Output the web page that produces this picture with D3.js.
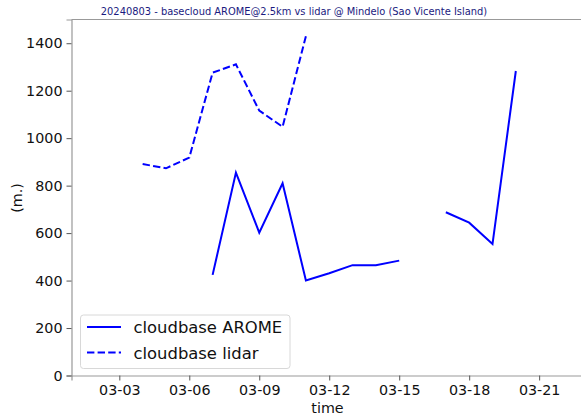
<!DOCTYPE html>
<html>
<head>
<meta charset="utf-8">
<script src="https://cdn.jsdelivr.net/npm/d3@7"></script>
<style>
  html, body { margin: 0; padding: 0; background: #fff; }
  svg { display: block; font-family: "DejaVu Sans", sans-serif; }
</style>
</head>
<body>
<svg id="chart" width="581" height="417"></svg>
<script>
// ---- data ----
const titleText = "20240803 - basecloud AROME@2.5km vs lidar @ Mindelo (Sao Vicente Island)";
const aromeDates = ["2024-03-07","2024-03-08","2024-03-09","2024-03-10","2024-03-11","2024-03-12","2024-03-13","2024-03-14","2024-03-15","2024-03-16","2024-03-17","2024-03-18","2024-03-19","2024-03-20"];
const aromeValues = [424, 855, 602, 810, 400, 431, 465, 465, 484, null, 688, 644, 554, 1283];
const lidarDates = ["2024-03-04","2024-03-05","2024-03-06","2024-03-07","2024-03-08","2024-03-09","2024-03-10","2024-03-11"];
const lidarValues = [891, 873, 918, 1276, 1311, 1116, 1048, 1430];
const xTickLabels = ["03-03","03-06","03-09","03-12","03-15","03-18","03-21"];
const yTicks = [0, 200, 400, 600, 800, 1000, 1200, 1400];
const legendLabels = ["cloudbase AROME", "cloudbase lidar"];

// ---- layout ----
const W = 581, H = 417;
const margin = { left: 71.5, right: -2, top: 19.5, bottom: 41.5 };
const svg = d3.select("#chart");
const parse = d3.utcParse("%Y-%m-%d");
const parseTick = s => parse("2024-" + s);

const x = d3.scaleUtc()
  .domain([new Date(Date.UTC(2024, 2, 3) - 2.05 * 864e5), new Date(Date.UTC(2024, 2, 3) + 19.88 * 864e5)])
  .range([margin.left, W - margin.right]);
const y = d3.scaleLinear().domain([0, 1500]).range([H - margin.bottom, margin.top]);

const blue = "#0000ff";
const spine = "#999999";

// axes
const xAxis = d3.axisBottom(x)
  .tickValues(xTickLabels.map(parseTick))
  .tickFormat(d3.utcFormat("%m-%d"))
  .tickSizeOuter(0).tickSize(5).tickPadding(4);
const gx = svg.append("g").attr("transform", `translate(0,${H - margin.bottom})`).call(xAxis);
gx.select(".domain").attr("stroke", spine).attr("stroke-width", 1.2);
gx.selectAll(".tick line").attr("stroke", "#555").attr("stroke-width", 1);
gx.selectAll(".tick text").attr("font-size", "14.3px").attr("fill", "#111").attr("font-family", "DejaVu Sans");

const yAxis = d3.axisLeft(y).tickValues(yTicks).tickFormat(d3.format("d"))
  .tickSizeOuter(0).tickSize(5).tickPadding(4);
const gy = svg.append("g").attr("transform", `translate(${margin.left},0)`).call(yAxis);
gy.select(".domain").attr("stroke", spine).attr("stroke-width", 1.2);
gy.selectAll(".tick line").attr("stroke", "#555").attr("stroke-width", 1);
gy.selectAll(".tick text").attr("font-size", "14.3px").attr("fill", "#111").attr("font-family", "DejaVu Sans");

// top spine
svg.append("line")
  .attr("x1", margin.left).attr("x2", W)
  .attr("y1", margin.top).attr("y2", margin.top)
  .attr("stroke", spine).attr("stroke-width", 1.2);

// lines
const line = d3.line()
  .defined(d => d.v != null)
  .x(d => x(d.t)).y(d => y(d.v));

const aromeData = aromeDates.map((d, i) => ({ t: parse(d), v: aromeValues[i] }));
const lidarData = lidarDates.map((d, i) => ({ t: parse(d), v: lidarValues[i] }));

svg.append("path").datum(aromeData)
  .attr("d", line).attr("fill", "none").attr("stroke", blue).attr("stroke-width", 2);
svg.append("path").datum(lidarData)
  .attr("d", line).attr("fill", "none").attr("stroke", blue).attr("stroke-width", 2)
  .attr("stroke-dasharray", "7.4,3.2");

// title
svg.append("text").attr("x", 294).attr("y", 15).attr("text-anchor", "middle")
  .attr("font-size", "9.9px").attr("fill", "#1a1a80").text(titleText);

// axis labels
svg.append("text").attr("x", 327.5).attr("y", 413).attr("text-anchor", "middle")
  .attr("font-size", "14.3px").attr("fill", "#111").text("time");
svg.append("text").attr("transform", "translate(21.5,198) rotate(-90)")
  .attr("text-anchor", "middle").attr("font-size", "14.3px").attr("fill", "#111").text("(m.)");

// legend
const lg = svg.append("g");
lg.append("rect").attr("x", 80.5).attr("y", 315).attr("width", 209.5).attr("height", 53.5)
  .attr("rx", 3).attr("fill", "#fff").attr("fill-opacity", 0.8)
  .attr("stroke", "#d8d8d8").attr("stroke-width", 1);
legendLabels.forEach((lab, i) => {
  const yy = 327 + i * 25.5;
  lg.append("line").attr("x1", 87).attr("x2", 121).attr("y1", yy).attr("y2", yy)
    .attr("stroke", blue).attr("stroke-width", 2)
    .attr("stroke-dasharray", i === 1 ? "7.4,3.2" : null);
  lg.append("text").attr("x", 133.5).attr("y", yy + 6).attr("font-size", "16.4px")
    .attr("fill", "#111").text(lab);
});
</script>
</body>
</html>
